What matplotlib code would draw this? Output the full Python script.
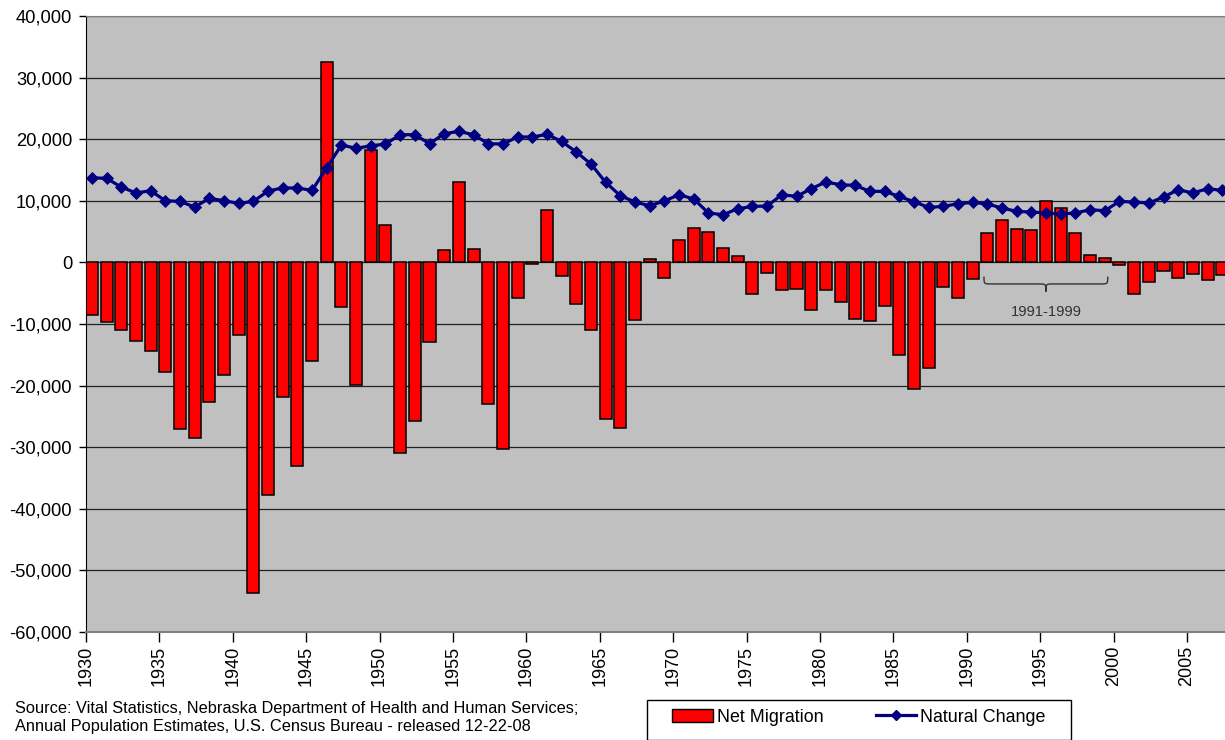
import matplotlib
matplotlib.use("Agg")
import matplotlib.pyplot as plt
import numpy as np
from matplotlib.path import Path
from matplotlib.patches import PathPatch, Rectangle, Patch
from matplotlib.lines import Line2D
from matplotlib.ticker import FuncFormatter

plt.rcParams['font.family'] = ['Liberation Sans', 'DejaVu Sans']

years = list(range(1930, 2008))

net_migration = [
    -8600, -9680, -10930, -12760, -14450, -17860, -27100, -28500, -22730, -18280,
    -11850, -53730, -37820, -21850, -33120, -15960, 32470, -7240, -19850, 18300,
    6000, -30950, -25700, -12990, 1950, 13050, 2110, -22990, -30300, -5780,
    -250, 8550, -2160, -6750, -10930, -25490, -26890, -9300, 550, -2480,
    3630, 5630, 4930, 2390, 1090, -5190, -1720, -4430, -4320, -7790,
    -4430, -6490, -9190, -9460, -7140, -15100, -20560, -17150, -4000, -5840,
    -2700, 4820, 6820, 5470, 5310, 9900, 8880, 4770, 1250, 650,
    -490, -5130, -3130, -1400, -2480, -1830, -2810, -2050,
]

natural_change = [
    13750, 13640, 12240, 11270, 11640, 10020, 9900, 8990, 10390, 10020,
    9580, 9900, 11590, 12080, 12080, 11690, 15370, 19060, 18510, 18940,
    19200, 20730, 20730, 19270, 20890, 21270, 20730, 19270, 19220, 20360,
    20360, 20780, 19640, 17920, 15970, 12990, 10830, 9800, 9200, 9970,
    10990, 10290, 8020, 7740, 8720, 9090, 9150, 10990, 10710, 11960,
    13050, 12610, 12500, 11530, 11530, 10710, 9850, 8930, 9090, 9530,
    9740, 9480, 8830, 8280, 8180, 8020, 7860, 8020, 8560, 8390,
    9900, 9800, 9640, 10610, 11800, 11270, 11960, 11690,
]

tick_years = list(range(1930, 2006, 5))
y_ticks = list(range(-60000, 40001, 10000))
series_labels = ["Net Migration", "Natural Change"]
bracket_label = "1991-1999"
bracket_range = (1991, 1999)
source_text = ("Source: Vital Statistics, Nebraska Department of Health and Human Services;\n"
               "Annual Population Estimates, U.S. Census Bureau - released 12-22-08")

W, H = 1225, 740
fig = plt.figure(figsize=(W / 100, H / 100), dpi=100)
ax = fig.add_axes([86 / W, (H - 632) / H, (W - 86) / W, (632 - 16) / H])
ax.set_facecolor('#C0C0C0')

x = np.array(years) + 0.4
ax.bar(x, net_migration, width=0.82, color='#FF0000', edgecolor='black',
       linewidth=1.1, zorder=2)
ax.plot(x, natural_change, color='#000080', linewidth=2.3, marker='D',
        markersize=6.6, markeredgewidth=0.6, markerfacecolor='#000080',
        markeredgecolor='#000080', zorder=3)

ax.set_xlim(1930, 1930 + (W - 86) / 14.68)
ax.set_ylim(-60000, 40000)
ax.set_yticks(y_ticks)
ax.yaxis.set_major_formatter(FuncFormatter(lambda v, p: f"{v:,.0f}"))
ax.set_xticks(tick_years)
ax.set_xticklabels([str(y) for y in tick_years], rotation=90)
ax.tick_params(axis='y', length=5, width=1, pad=5, labelsize=13.2, colors='black')
ax.tick_params(axis='x', length=7, width=1, pad=3, labelsize=13)
ax.grid(axis='y', color='#202020', linewidth=0.9, zorder=0)
ax.set_axisbelow(True)
ax.spines['right'].set_visible(False)
ax.spines['top'].set_color('#808080')
ax.spines['bottom'].set_color('#808080')
ax.spines['bottom'].set_linewidth(1.5)
ax.spines['left'].set_color('black')

# bracket over 1991-1999
x0 = bracket_range[0] + 0.17
x1 = bracket_range[1] + 0.6
xm = (x0 + x1) / 2
yt, ym, yp = -2300, -3500, -4750
dx = 0.5
verts = [
    (x0, yt), (x0, ym), (x0, ym), (x0 + dx, ym),
    (xm - dx, ym),
    (xm, ym), (xm, ym), (xm, yp),
    (xm, ym), (xm, ym), (xm + dx, ym),
    (x1 - dx, ym),
    (x1, ym), (x1, ym), (x1, yt),
]
codes = [Path.MOVETO, Path.CURVE4, Path.CURVE4, Path.CURVE4,
         Path.LINETO,
         Path.CURVE4, Path.CURVE4, Path.CURVE4,
         Path.CURVE4, Path.CURVE4, Path.CURVE4,
         Path.LINETO,
         Path.CURVE4, Path.CURVE4, Path.CURVE4]
ax.add_patch(PathPatch(Path(verts, codes), fill=False, edgecolor='#333333',
                       linewidth=1.0, zorder=4))
ax.text(xm, -8000, bracket_label, ha='center', va='center', fontsize=10.6,
        color='#333333', zorder=4)

# source
fig.text(15 / W, (H - 701) / H, source_text, ha='left', va='top',
         fontsize=11.75, linespacing=1.28)

# legend
handles = [Patch(facecolor='#FF0000', edgecolor='black', linewidth=1.0),
           Line2D([0], [0], color='#000080', linewidth=2.3, marker='D',
                  markersize=5, markerfacecolor='#000080', markeredgecolor='#000080')]
fig.legend(handles, series_labels, loc='center', bbox_to_anchor=(859 / W, (H - 717) / H),
           ncol=2, frameon=False, fontsize=12.9, handlelength=2.25,
           handletextpad=0.25, columnspacing=2.9, borderpad=0, borderaxespad=0)
fig.patches.append(Rectangle((647 / W, 0), 424 / W, 40 / H, transform=fig.transFigure,
                             fill=False, edgecolor='black', linewidth=1.0))

fig.savefig('out.png', dpi=100)
